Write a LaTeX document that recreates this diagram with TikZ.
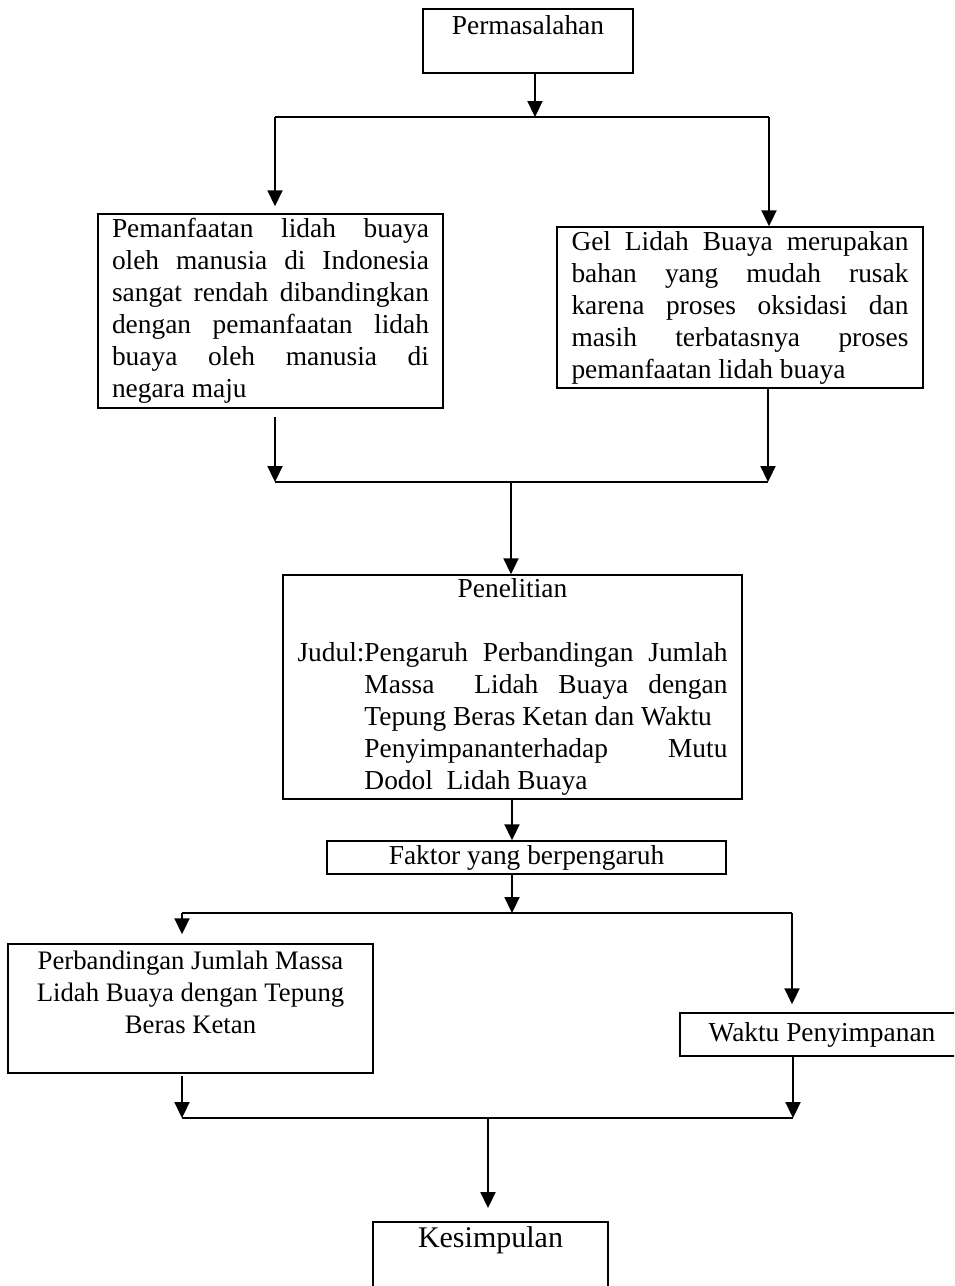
\documentclass[tikz,border=0pt]{standalone}
\usepackage{fontspec}
\setmainfont{Liberation Serif}
\usetikzlibrary{arrows.meta,calc}
\begin{document}
\begin{tikzpicture}[x=1pt,y=-1pt,
  txt/.style={font={\fontsize{27.4}{32}\selectfont\tolerance=10000\hyphenpenalty=10000\exhyphenpenalty=10000}},
  box/.style={draw, line width=1.5pt, inner sep=0pt, txt},
  conn/.style={line width=2.2pt},
  arr/.style={conn, -{Triangle[width=15pt,length=16pt]}}]
\useasboundingbox (0,0) rectangle (954,1286);
\clip (0,0) rectangle (954,1286);

% boxes
\node[box, minimum width=210pt, minimum height=64pt, align=center] (perm) at (528,41) {Permasalahan\\\mbox{}};

\node[box, minimum width=345pt, minimum height=194pt, text width=317pt, align=justify] (L) at (270.5,311)
{\noindent Pemanfaatan lidah buaya\linebreak oleh manusia di Indonesia\linebreak sangat rendah dibandingkan\linebreak dengan pemanfaatan lidah\linebreak buaya oleh manusia di\linebreak negara maju};

\node[box, minimum width=366pt, minimum height=161pt, text width=337pt, align=justify] (R) at (740,307.5)
{\noindent Gel Lidah Buaya merupakan\linebreak bahan yang mudah rusak\linebreak karena proses oksidasi dan\linebreak masih terbatasnya proses\linebreak pemanfaatan lidah buaya};

\node[box, minimum width=459pt, minimum height=224pt, text width=430pt, align=justify] (P) at (512.5,687)
{{\centering Penelitian\par}\vspace{32pt}\noindent\setbox0\hbox{Judul:}Judul:\parbox[t]{\dimexpr430pt-\wd0\relax}{\tolerance=10000 Pengaruh Perbandingan Jumlah\linebreak Massa \ Lidah Buaya dengan\linebreak Tepung Beras Ketan dan Waktu\newline Penyimpananterhadap Mutu\linebreak Dodol \ Lidah Buaya}};

\node[box, minimum width=399pt, minimum height=33pt] (F) at (526.5,857.5) {Faktor yang berpengaruh};

\node[box, minimum width=365pt, minimum height=129pt, align=center,
  font={\fontsize{26.7}{32}\selectfont}] (B) at (190.5,1008.5)
{Perbandingan Jumlah Massa\\Lidah Buaya dengan Tepung\\Beras Ketan\\\mbox{}};

\node[box, minimum width=284pt, minimum height=43pt] (W) at (822,1034.5) {Waktu Penyimpanan};

\node[box, anchor=north, minimum width=235pt, minimum height=100pt] (K) at (490.5,1221) {};
\node[txt, font={\fontsize{30}{34}\selectfont}] (Kt) at (490.5,1240) {Kesimpulan};

% junction points
\coordinate (j1) at (535,117);
\coordinate (jl) at (275,117);
\coordinate (jr) at (769,117);
\coordinate (k1) at (275,482);
\coordinate (k2) at (768,482);
\coordinate (km) at (511,482);
\coordinate (m1) at (512,913);
\coordinate (ml) at (182,913);
\coordinate (mr) at (792,913);
\coordinate (n1) at (182,1118);
\coordinate (n2) at (793,1118);
\coordinate (nm) at (488,1118);

% connectors
\draw[arr] (perm.south -| j1) -- (j1);
\draw[conn] (jl) -- (jr);
\draw[arr, shorten >=7pt] (jl) -- (jl |- L.north);
\draw[arr] (jr) -- (jr |- R.north);

\draw[arr, shorten <=8pt] (L.south -| k1) -- (k1);
\draw[arr] (R.south -| k2) -- (k2);
\draw[conn] (k1) -- (k2);
\draw[arr] (km) -- (km |- P.north);

\draw[arr] (P.south -| m1) -- (m1 |- F.north);
\draw[arr] (F.south -| m1) -- (m1);
\draw[conn] (ml) -- (mr);
\draw[arr, shorten >=9pt] (ml) -- (ml |- B.north);
\draw[arr, shorten >=8pt] (mr) -- (mr |- W.north);

\draw[arr, shorten <=2pt] (B.south -| n1) -- (n1);
\draw[arr] (W.south -| n2) -- (n2);
\draw[conn] (n1) -- (n2);
\draw[arr, shorten >=13pt] (nm) -- (nm |- K.north);
\end{tikzpicture}
\end{document}
